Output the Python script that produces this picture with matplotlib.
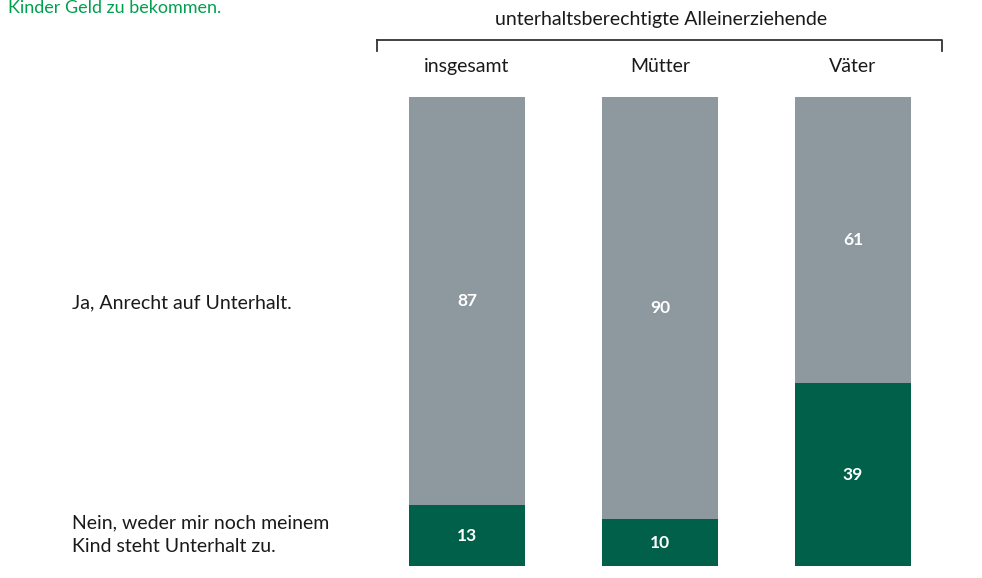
import matplotlib.pyplot as plt
import numpy as np

plt.rcParams["font.family"] = ["Lato", "DejaVu Sans"]

groups = ["insgesamt", "Mütter", "Väter"]
nein = [13, 10, 39]
ja = [87, 90, 61]
header = "unterhaltsberechtigte Alleinerziehende"
label_ja = "Ja, Anrecht auf Unterhalt."
label_nein = "Nein, weder mir noch meinem\nKind steht Unterhalt zu."
title_cut = "Kinder Geld zu bekommen."

GREEN = "#00604a"
GREY = "#8e999f"
TXT = "#1a1a1a"

fig = plt.figure(figsize=(9.82, 5.78), dpi=100)
ax = fig.add_axes([370.5 / 982, 12 / 578, 579 / 982, 469 / 578])

x = np.arange(len(groups))
ax.bar(x, nein, width=0.6, color=GREEN)
ax.bar(x, ja, width=0.6, bottom=nein, color=GREY)

for i in range(len(groups)):
    ax.text(x[i], nein[i] / 2, str(nein[i]), ha="center", va="center",
            color="white", fontsize=12.5, fontweight="bold")
    ax.text(x[i], nein[i] + ja[i] / 2, str(ja[i]), ha="center", va="center",
            color="white", fontsize=12.5, fontweight="bold")
    ax.text(x[i], 106.5, groups[i], ha="center", va="center",
            color=TXT, fontsize=14, clip_on=False)

ax.set_xlim(-0.5, 2.5)
ax.set_ylim(0, 100)
ax.axis("off")

# bracket over the groups
fig.add_artist(plt.Line2D([377 / 982, 942 / 982, 942 / 982], [1 - 40 / 578, 1 - 40 / 578, 1 - 51 / 578],
                          color="#333333", lw=1.3))
fig.add_artist(plt.Line2D([377 / 982, 377 / 982], [1 - 40 / 578, 1 - 51 / 578],
                          color="#333333", lw=1.3))
fig.text(661 / 982, 1 - 19 / 578, header, ha="center", va="center",
         color=TXT, fontsize=14)

fig.text(72 / 982, 1 - 303 / 578, label_ja, ha="left", va="center",
         color=TXT, fontsize=14)
fig.text(72 / 982, 1 - 535 / 578, label_nein, ha="left", va="center",
         color=TXT, fontsize=14, linespacing=1.5)

fig.text(8 / 982, 1.0, title_cut, ha="left", va="top",
         color="#00a04e", fontsize=13)

fig.savefig("out.png", dpi=100)
